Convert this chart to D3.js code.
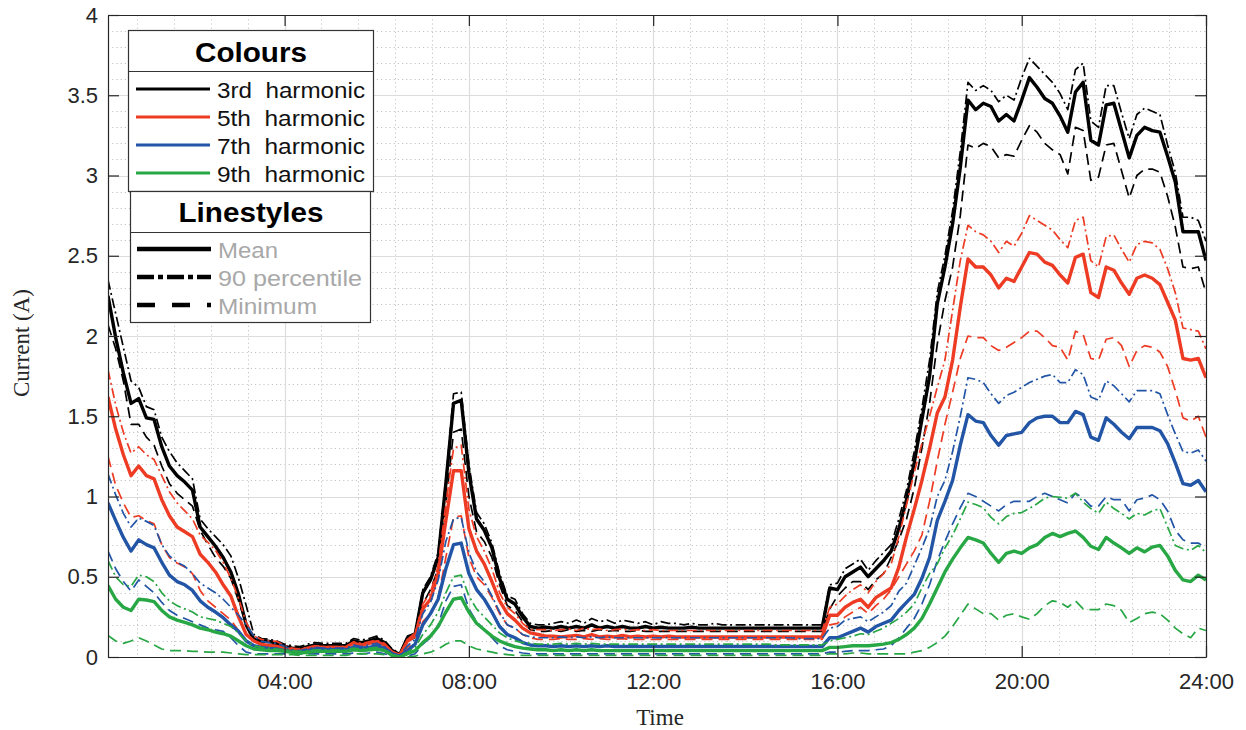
<!DOCTYPE html>
<html>
<head>
<meta charset="utf-8">
<script src="https://cdn.jsdelivr.net/npm/d3@7"></script>
<style>
  body { margin: 0; background: #fff; }
  svg { display: block; }
</style>
</head>
<body>
<svg id="chart" width="1246" height="730"></svg>
<script>
// Sampling grid: one reading every 10 minutes, 00:10 .. 24:00 (minutes after midnight)
const minutes = d3.range(10, 1441, 10);

// 3rd harmonic current (A)
const h3Mean = [
  2.25,1.99,1.77,1.58,1.61,1.49,1.48,1.31,1.19,1.13,1.09,1.04,0.81,0.75,0.69,0.62,0.53,0.39,0.20,0.11,0.10,0.097,0.085,0.066,
  0.055,0.05,0.065,0.075,0.07,0.07,0.07,0.07,0.10,0.09,0.10,0.115,0.09,0.04,0.015,0.12,0.14,
  0.40,0.48,0.62,1.08,1.58,1.60,1.15,0.86,0.79,0.68,0.49,0.36,0.33,0.25,0.19,0.18,
  0.185,0.18,0.19,0.18,0.19,0.18, 0.20,0.18,0.19,0.18,0.19,0.18, 0.18,0.19,0.18,0.185,0.18,0.18,
  0.18,0.185,0.18,0.18,0.18,0.18, 0.18,0.18,0.18,0.18,0.18,0.18, 0.18,0.18,0.18,0.18,0.18,0.18,
  0.18,0.43,0.42,0.50,0.53,0.56,0.50,0.55,0.60,0.66,0.80,0.98,1.21,1.48,1.75,2.20,2.43,2.70,3.05,3.47,
  3.41,3.45,3.43,3.34,3.38,3.34,3.47,3.61,3.55,3.48,3.45,3.37,3.27,3.52,3.58,3.22,3.19,3.44,3.45,3.28,3.11,3.25,3.30,3.28,3.27,3.12,2.96,2.65,2.65,2.65,2.47
];
const h3P90 = [
  2.35,2.14,1.93,1.72,1.68,1.56,1.54,1.37,1.28,1.21,1.16,1.11,0.86,0.80,0.75,0.70,0.63,0.49,0.32,0.14,0.115,0.11,0.10,0.08,
  0.07,0.065,0.08,0.09,0.085,0.085,0.085,0.085,0.115,0.105,0.115,0.13,0.105,0.05,0.02,0.13,0.15,
  0.42,0.50,0.65,1.10,1.64,1.65,1.20,0.90,0.83,0.71,0.52,0.38,0.36,0.27,0.21,0.20,
  0.20,0.21,0.22,0.21,0.23,0.21, 0.24,0.22,0.23,0.21,0.23,0.22, 0.21,0.22,0.20,0.22,0.21,0.21,
  0.20,0.21,0.20,0.20,0.21,0.20, 0.20,0.20,0.20,0.20,0.20,0.20, 0.20,0.20,0.20,0.20,0.20,0.20,
  0.20,0.45,0.46,0.55,0.58,0.61,0.54,0.60,0.65,0.70,0.86,1.04,1.28,1.55,1.85,2.27,2.50,2.78,3.15,3.58,
  3.53,3.56,3.53,3.46,3.50,3.47,3.61,3.73,3.68,3.63,3.58,3.51,3.41,3.66,3.70,3.34,3.30,3.56,3.56,3.39,3.23,3.38,3.42,3.40,3.38,3.19,3.02,2.74,2.74,2.72,2.59
];
const h3Min = [
  2.07,1.92,1.72,1.45,1.45,1.37,1.32,1.19,1.08,1.02,0.98,0.94,0.79,0.70,0.62,0.565,0.49,0.35,0.20,0.10,0.084,0.078,0.072,0.053,
  0.045,0.04,0.055,0.065,0.06,0.06,0.06,0.06,0.085,0.075,0.085,0.10,0.075,0.025,0.01,0.10,0.12,
  0.33,0.42,0.55,0.95,1.40,1.42,1.00,0.78,0.72,0.62,0.45,0.32,0.29,0.22,0.17,0.16,
  0.16,0.165,0.16,0.17,0.16,0.165, 0.16,0.17,0.16,0.165,0.16,0.16, 0.165,0.16,0.16,0.16,0.16,0.16,
  0.16,0.16,0.16,0.16,0.16,0.16, 0.16,0.16,0.16,0.16,0.16,0.16, 0.16,0.16,0.16,0.16,0.16,0.16,
  0.16,0.30,0.38,0.43,0.47,0.47,0.42,0.48,0.52,0.62,0.73,0.86,1.05,1.30,1.58,1.95,2.22,2.43,2.75,3.19,
  3.17,3.20,3.18,3.11,3.13,3.12,3.22,3.31,3.27,3.20,3.16,3.13,3.01,3.30,3.28,2.97,2.99,3.19,3.20,3.03,2.86,3.00,3.04,3.04,3.02,2.87,2.68,2.43,2.42,2.43,2.27
];

// 5th harmonic current (A)
const h5Mean = [
  1.62,1.42,1.26,1.13,1.19,1.13,1.11,0.98,0.88,0.81,0.78,0.75,0.64,0.59,0.53,0.45,0.38,0.25,0.14,0.10,0.078,0.072,0.066,0.053,
  0.045,0.04,0.055,0.065,0.06,0.06,0.06,0.06,0.085,0.075,0.085,0.095,0.075,0.03,0.01,0.10,0.13,
  0.30,0.36,0.52,0.85,1.16,1.16,0.80,0.66,0.58,0.47,0.35,0.27,0.23,0.18,0.15,0.14,
  0.13,0.13,0.125,0.13,0.135,0.125, 0.14,0.125,0.13,0.125,0.135,0.125, 0.13,0.125,0.13,0.125,0.13,0.125,
  0.125,0.125,0.125,0.125,0.125,0.125, 0.125,0.125,0.125,0.125,0.125,0.125, 0.125,0.125,0.125,0.125,0.125,0.125,
  0.125,0.26,0.26,0.31,0.34,0.36,0.31,0.37,0.40,0.43,0.56,0.75,0.92,1.10,1.30,1.52,1.62,1.85,2.18,2.48,
  2.43,2.43,2.38,2.30,2.36,2.34,2.43,2.52,2.51,2.46,2.44,2.38,2.33,2.49,2.51,2.27,2.24,2.43,2.41,2.33,2.26,2.36,2.38,2.36,2.32,2.21,2.10,1.86,1.85,1.86,1.74
];
const h5P90 = [
  1.79,1.57,1.40,1.27,1.31,1.26,1.23,1.13,1.03,0.96,0.91,0.86,0.76,0.715,0.665,0.59,0.49,0.365,0.215,0.13,0.11,0.10,0.097,0.07,
  0.055,0.05,0.06,0.07,0.065,0.065,0.065,0.065,0.095,0.085,0.095,0.105,0.085,0.035,0.012,0.11,0.15,
  0.33,0.40,0.57,0.95,1.30,1.32,0.92,0.75,0.66,0.55,0.40,0.31,0.27,0.21,0.17,0.17,
  0.17,0.165,0.17,0.175,0.165,0.18, 0.17,0.175,0.165,0.17,0.175,0.165, 0.17,0.165,0.17,0.165,0.165,0.165,
  0.165,0.165,0.165,0.165,0.165,0.165, 0.165,0.165,0.165,0.165,0.165,0.165, 0.165,0.165,0.165,0.165,0.165,0.165,
  0.165,0.31,0.33,0.38,0.42,0.45,0.40,0.47,0.52,0.58,0.75,0.95,1.15,1.33,1.50,1.68,1.85,2.16,2.47,2.69,
  2.65,2.63,2.59,2.52,2.59,2.56,2.64,2.75,2.72,2.69,2.66,2.60,2.55,2.72,2.74,2.47,2.43,2.62,2.63,2.54,2.46,2.57,2.59,2.58,2.54,2.42,2.27,2.05,2.04,2.03,1.92
];
const h5Min = [
  1.25,1.07,0.96,0.87,0.88,0.85,0.83,0.70,0.62,0.585,0.56,0.52,0.415,0.35,0.31,0.27,0.23,0.165,0.10,0.066,0.053,0.048,0.048,0.04,
  0.04,0.035,0.045,0.05,0.045,0.045,0.045,0.045,0.065,0.055,0.065,0.075,0.055,0.02,0.005,0.06,0.09,
  0.22,0.27,0.37,0.62,0.87,0.88,0.62,0.50,0.45,0.37,0.27,0.20,0.18,0.14,0.12,0.11,
  0.11,0.11,0.115,0.11,0.11,0.115, 0.11,0.115,0.11,0.11,0.115,0.11, 0.11,0.11,0.11,0.11,0.11,0.11,
  0.11,0.11,0.11,0.11,0.11,0.11, 0.11,0.11,0.11,0.11,0.11,0.11, 0.11,0.11,0.11,0.11,0.11,0.11,
  0.11,0.20,0.21,0.25,0.28,0.31,0.27,0.32,0.36,0.42,0.50,0.58,0.66,0.76,0.97,1.22,1.45,1.65,1.86,2.00,
  1.99,1.99,1.94,1.91,1.93,1.96,1.99,2.03,2.03,1.99,1.94,1.93,1.85,2.03,2.01,1.86,1.85,1.98,1.99,1.94,1.81,1.91,1.94,1.93,1.90,1.81,1.66,1.49,1.47,1.50,1.37
];

// 7th harmonic current (A)
const h7Mean = [
  0.96,0.85,0.745,0.66,0.73,0.70,0.68,0.59,0.51,0.47,0.45,0.415,0.35,0.31,0.28,0.245,0.20,0.16,0.10,0.07,0.06,0.053,0.05,0.04,
  0.035,0.03,0.04,0.05,0.045,0.045,0.045,0.045,0.06,0.055,0.06,0.07,0.055,0.02,0.005,0.04,0.08,
  0.20,0.27,0.36,0.55,0.70,0.71,0.52,0.42,0.36,0.28,0.19,0.14,0.12,0.09,0.075,0.07,
  0.07,0.065,0.07,0.065,0.07,0.065, 0.07,0.065,0.07,0.065,0.065,0.065, 0.065,0.065,0.065,0.065,0.065,0.065,
  0.065,0.065,0.065,0.065,0.065,0.065, 0.065,0.065,0.065,0.065,0.065,0.065, 0.065,0.065,0.065,0.065,0.065,0.065,
  0.065,0.12,0.12,0.14,0.16,0.18,0.155,0.19,0.21,0.23,0.29,0.34,0.39,0.49,0.62,0.85,0.97,1.10,1.32,1.51,
  1.47,1.46,1.38,1.32,1.38,1.39,1.40,1.46,1.49,1.50,1.50,1.46,1.46,1.53,1.51,1.37,1.35,1.49,1.45,1.40,1.36,1.43,1.43,1.43,1.41,1.33,1.21,1.08,1.07,1.10,1.03
];
const h7P90 = [
  1.14,1.01,0.895,0.81,0.865,0.845,0.82,0.70,0.63,0.59,0.565,0.52,0.46,0.43,0.40,0.36,0.31,0.26,0.20,0.13,0.097,0.09,0.085,0.066,
  0.045,0.04,0.05,0.06,0.055,0.055,0.055,0.055,0.075,0.065,0.075,0.085,0.065,0.025,0.008,0.07,0.11,
  0.27,0.34,0.48,0.72,0.86,0.87,0.65,0.53,0.47,0.38,0.28,0.20,0.18,0.14,0.125,0.12,
  0.12,0.12,0.125,0.12,0.125,0.12, 0.125,0.12,0.125,0.12,0.12,0.12, 0.12,0.12,0.12,0.12,0.12,0.12,
  0.12,0.12,0.12,0.12,0.12,0.12, 0.12,0.12,0.12,0.12,0.12,0.12, 0.12,0.12,0.12,0.115,0.115,0.115,
  0.115,0.18,0.19,0.23,0.24,0.25,0.22,0.25,0.28,0.32,0.41,0.46,0.57,0.68,0.80,1.00,1.10,1.28,1.50,1.74,
  1.73,1.71,1.64,1.58,1.63,1.65,1.68,1.71,1.73,1.75,1.76,1.71,1.71,1.79,1.76,1.62,1.60,1.72,1.69,1.64,1.59,1.66,1.66,1.66,1.64,1.51,1.39,1.28,1.27,1.29,1.22
];
const h7Min = [
  0.66,0.55,0.47,0.41,0.48,0.44,0.40,0.34,0.29,0.26,0.24,0.22,0.20,0.18,0.17,0.16,0.12,0.07,0.03,0.02,0.02,0.02,0.02,0.02,
  0.02,0.02,0.02,0.02,0.02,0.02,0.02,0.02,0.025,0.02,0.025,0.03,0.02,0.005,0.0,0.005,0.02,
  0.08,0.12,0.20,0.35,0.44,0.45,0.30,0.22,0.17,0.12,0.07,0.045,0.035,0.025,0.02,0.02,
  0.02,0.02,0.02,0.02,0.02,0.02, 0.02,0.02,0.02,0.02,0.02,0.02, 0.02,0.02,0.02,0.02,0.02,0.02,
  0.02,0.02,0.02,0.02,0.02,0.02, 0.02,0.02,0.02,0.02,0.02,0.02, 0.02,0.02,0.02,0.02,0.02,0.02,
  0.02,0.03,0.03,0.035,0.04,0.04,0.04,0.045,0.05,0.07,0.12,0.18,0.24,0.33,0.45,0.60,0.72,0.83,0.93,1.02,
  1.00,0.97,0.94,0.91,0.95,0.97,0.97,0.97,1.00,1.02,1.00,0.98,0.96,1.02,0.99,0.94,0.94,1.00,0.98,0.98,0.91,0.98,0.99,1.01,0.98,0.91,0.79,0.73,0.71,0.71,0.68
];

// 9th harmonic current (A)
const h9Mean = [
  0.445,0.36,0.31,0.29,0.36,0.355,0.345,0.29,0.25,0.23,0.215,0.20,0.18,0.17,0.155,0.145,0.13,0.10,0.07,0.05,0.045,0.04,0.04,0.035,
  0.03,0.025,0.03,0.035,0.035,0.035,0.035,0.035,0.045,0.04,0.045,0.05,0.04,0.01,0.0,0.02,0.04,
  0.09,0.13,0.19,0.28,0.36,0.37,0.28,0.21,0.17,0.13,0.10,0.08,0.065,0.055,0.05,0.045,
  0.045,0.04,0.045,0.04,0.045,0.04, 0.045,0.04,0.04,0.04,0.04,0.04, 0.04,0.04,0.04,0.04,0.04,0.04,
  0.04,0.04,0.04,0.04,0.04,0.04, 0.04,0.04,0.04,0.04,0.04,0.04, 0.04,0.04,0.04,0.04,0.04,0.04,
  0.04,0.06,0.06,0.065,0.07,0.07,0.07,0.075,0.08,0.09,0.11,0.14,0.18,0.24,0.33,0.43,0.53,0.61,0.68,0.745,
  0.73,0.71,0.645,0.59,0.645,0.66,0.645,0.68,0.70,0.745,0.77,0.75,0.77,0.785,0.745,0.69,0.67,0.745,0.71,0.68,0.645,0.68,0.655,0.685,0.695,0.63,0.54,0.48,0.47,0.51,0.48
];
const h9P90 = [
  0.60,0.50,0.45,0.44,0.51,0.50,0.47,0.40,0.35,0.32,0.30,0.28,0.25,0.24,0.23,0.21,0.19,0.15,0.10,0.07,0.06,0.055,0.05,0.045,
  0.04,0.035,0.04,0.045,0.045,0.045,0.045,0.045,0.055,0.05,0.055,0.06,0.05,0.015,0.005,0.03,0.06,
  0.14,0.20,0.28,0.40,0.50,0.51,0.38,0.30,0.25,0.20,0.15,0.12,0.10,0.09,0.085,0.08,
  0.08,0.08,0.085,0.08,0.085,0.08, 0.085,0.08,0.08,0.08,0.08,0.08, 0.08,0.08,0.08,0.08,0.08,0.08,
  0.08,0.08,0.08,0.08,0.08,0.08, 0.08,0.08,0.08,0.08,0.08,0.08, 0.075,0.075,0.075,0.075,0.075,0.075,
  0.075,0.10,0.11,0.12,0.13,0.145,0.14,0.16,0.18,0.21,0.24,0.28,0.33,0.43,0.52,0.58,0.68,0.76,0.86,0.965,
  0.95,0.93,0.87,0.83,0.875,0.895,0.90,0.925,0.955,0.99,1.00,0.995,0.99,1.02,0.965,0.925,0.895,0.965,0.925,0.895,0.86,0.895,0.885,0.91,0.925,0.81,0.695,0.675,0.665,0.695,0.65
];
const h9Min = [
  0.135,0.10,0.085,0.10,0.12,0.10,0.075,0.05,0.04,0.04,0.04,0.035,0.035,0.03,0.03,0.03,0.025,0.02,0.015,0.015,0.015,0.015,0.015,0.015,
  0.015,0.01,0.01,0.01,0.01,0.01,0.01,0.01,0.02,0.02,0.02,0.02,0.015,0.005,0.0,0.0,0.005,
  0.02,0.03,0.05,0.08,0.10,0.10,0.07,0.05,0.04,0.03,0.02,0.015,0.01,0.01,0.01,0.01,
  0.01,0.01,0.01,0.01,0.01,0.01, 0.01,0.01,0.01,0.01,0.01,0.01, 0.01,0.01,0.01,0.01,0.01,0.01,
  0.01,0.01,0.01,0.01,0.01,0.01, 0.01,0.01,0.01,0.01,0.01,0.01, 0.01,0.01,0.01,0.01,0.01,0.01,
  0.01,0.02,0.02,0.02,0.025,0.025,0.02,0.02,0.02,0.02,0.02,0.02,0.03,0.04,0.06,0.09,0.13,0.19,0.26,0.33,
  0.30,0.27,0.27,0.23,0.26,0.27,0.25,0.235,0.27,0.32,0.35,0.34,0.31,0.35,0.30,0.295,0.295,0.33,0.32,0.29,0.215,0.24,0.27,0.28,0.27,0.23,0.18,0.145,0.12,0.18,0.165
];

// Categories, styling keys and tick labels
const harmonics = ["3rd  harmonic", "5th  harmonic", "7th  harmonic", "9th  harmonic"];
const harmonicColours = ["#000000", "#ee3b24", "#2255a6", "#28a745"];
const statistics = ["Mean", "90 percentile", "Minimum"];
const seriesByHarmonic = [
  [h3Mean, h3P90, h3Min],
  [h5Mean, h5P90, h5Min],
  [h7Mean, h7P90, h7Min],
  [h9Mean, h9P90, h9Min]
];
const yTickValues = [0, 0.5, 1, 1.5, 2, 2.5, 3, 3.5, 4];
const yTickLabels = ["0", "0.5", "1", "1.5", "2", "2.5", "3", "3.5", "4"];
const xTickMinutes = [240, 480, 720, 960, 1200, 1440];
const xTickLabels = ["04:00", "08:00", "12:00", "16:00", "20:00", "24:00"];

// ---------------------------------------------------------------
const svg = d3.select("#chart");
const plot = { left: 108, right: 1206, top: 15, bottom: 657 };
const axisColour = "#262626";

const x = d3.scaleLinear().domain([10, 1440]).range([plot.left, plot.right]);
const y = d3.scaleLinear().domain([0, 4]).range([plot.bottom, plot.top]);

// Grid: minor dotted, major solid
const grid = svg.append("g");
const minorX = d3.range(48, 1440, 48).filter(m => m % 240 !== 0 && m > 10);
const minorY = d3.range(1, 40).filter(i => i % 5 !== 0).map(i => i / 10);
grid.selectAll(".mx").data(minorX).join("line")
  .attr("x1", d => Math.round(x(d)) + 0.5).attr("x2", d => Math.round(x(d)) + 0.5)
  .attr("y1", plot.top).attr("y2", plot.bottom)
  .attr("stroke", "#c4c4c4").attr("stroke-dasharray", "1.2,3");
grid.selectAll(".my").data(minorY).join("line")
  .attr("y1", d => Math.round(y(d)) + 0.5).attr("y2", d => Math.round(y(d)) + 0.5)
  .attr("x1", plot.left).attr("x2", plot.right)
  .attr("stroke", "#c4c4c4").attr("stroke-dasharray", "1.2,3");
grid.selectAll(".Mx").data(xTickMinutes.slice(0, -1)).join("line")
  .attr("x1", d => Math.round(x(d)) + 0.5).attr("x2", d => Math.round(x(d)) + 0.5)
  .attr("y1", plot.top).attr("y2", plot.bottom)
  .attr("stroke", "#dcdcdc").attr("stroke-width", 1.2);
grid.selectAll(".My").data(yTickValues.slice(1, -1)).join("line")
  .attr("y1", d => Math.round(y(d)) + 0.5).attr("y2", d => Math.round(y(d)) + 0.5)
  .attr("x1", plot.left).attr("x2", plot.right)
  .attr("stroke", "#dcdcdc").attr("stroke-width", 1.2);

// Data lines
svg.append("clipPath").attr("id", "plot-clip").append("rect")
  .attr("x", plot.left).attr("y", plot.top - 2)
  .attr("width", plot.right - plot.left).attr("height", plot.bottom - plot.top + 2);

const lineGen = d3.line()
  .x(d => x(d.m))
  .y(d => y(d.v));

const statStyle = [
  { width: 3.4, dash: null },            // mean
  { width: 1.7, dash: "10,3.5,2,3.5" },  // 90 percentile
  { width: 1.7, dash: "11,6" }           // minimum
];
const drawOrder = [1, 2, 0];

const lines = svg.append("g").attr("clip-path", "url(#plot-clip)");
seriesByHarmonic.forEach((stats, hi) => {
  drawOrder.forEach(si => {
    const pts = minutes.map((m, i) => ({ m, v: stats[si][i] }));
    lines.append("path")
      .attr("d", lineGen(pts))
      .attr("fill", "none")
      .attr("stroke", harmonicColours[hi])
      .attr("stroke-width", statStyle[si].width)
      .attr("stroke-dasharray", statStyle[si].dash)
      .attr("stroke-linejoin", "round");
  });
});

// Axes (ticks point inward, box on all four sides)
const tickFont = "'Liberation Sans', Arial, Helvetica, sans-serif";
function styleAxis(g) {
  g.selectAll("path.domain").attr("stroke", axisColour).attr("stroke-width", 1.2);
  g.selectAll(".tick line").attr("stroke", axisColour).attr("stroke-width", 1.2);
  g.selectAll(".tick text")
    .attr("fill", axisColour)
    .style("font-family", tickFont)
    .style("font-size", "22px");
}
svg.append("g").attr("transform", `translate(0,${plot.bottom})`)
  .call(d3.axisBottom(x).tickValues(xTickMinutes).tickFormat((d, i) => xTickLabels[i])
    .tickSizeInner(-11).tickSizeOuter(0).tickPadding(16))
  .call(styleAxis);
svg.append("g").attr("transform", `translate(0,${plot.top})`)
  .call(d3.axisTop(x).tickValues(xTickMinutes).tickFormat("")
    .tickSizeInner(-11).tickSizeOuter(0))
  .call(styleAxis);
svg.append("g").attr("transform", `translate(${plot.left},0)`)
  .call(d3.axisLeft(y).tickValues(yTickValues).tickFormat((d, i) => yTickLabels[i])
    .tickSizeInner(-11).tickSizeOuter(0).tickPadding(10))
  .call(styleAxis);
svg.append("g").attr("transform", `translate(${plot.right},0)`)
  .call(d3.axisRight(y).tickValues(yTickValues).tickFormat("")
    .tickSizeInner(-11).tickSizeOuter(0))
  .call(styleAxis);

// Axis titles
const serif = "'Liberation Serif', 'Times New Roman', serif";
svg.append("text")
  .attr("x", (plot.left + plot.right) / 2 + 3).attr("y", 725)
  .attr("text-anchor", "middle")
  .style("font-family", serif).style("font-size", "23px").attr("fill", axisColour)
  .text("Time");
svg.append("text")
  .attr("transform", `translate(29,${(plot.top + plot.bottom) / 2 + 7}) rotate(-90)`)
  .attr("text-anchor", "middle")
  .style("font-family", serif).style("font-size", "23px").attr("fill", axisColour)
  .text("Current (A)");

// Legend: colours box
const legendFont = "'Liberation Sans', Arial, Helvetica, sans-serif";
const lg = svg.append("g");
const cBox = { x: 128.5, y: 30.5, w: 245, h: 161 };
lg.append("rect").attr("x", cBox.x).attr("y", cBox.y).attr("width", cBox.w).attr("height", cBox.h)
  .attr("fill", "#fff").attr("stroke", "#333").attr("stroke-width", 1.2);
lg.append("line").attr("x1", cBox.x).attr("x2", cBox.x + cBox.w).attr("y1", 71.5).attr("y2", 71.5)
  .attr("stroke", "#333").attr("stroke-width", 1.2);
lg.append("text").attr("x", 251).attr("y", 62).attr("text-anchor", "middle")
  .style("font-family", legendFont).style("font-size", "27px").style("font-weight", "bold")
  .attr("textLength", 112).attr("lengthAdjust", "spacingAndGlyphs")
  .text("Colours");
const colourRows = [89, 117, 145, 173];
harmonics.forEach((h, i) => {
  lg.append("line").attr("x1", 136).attr("x2", 210).attr("y1", colourRows[i]).attr("y2", colourRows[i])
    .attr("stroke", harmonicColours[i]).attr("stroke-width", 3.2);
  lg.append("text").attr("x", 217).attr("y", colourRows[i] + 8.5)
    .style("font-family", legendFont).style("font-size", "22px").attr("fill", "#111")
    .style("white-space", "pre")
    .attr("textLength", 148).attr("lengthAdjust", "spacingAndGlyphs")
    .text(h);
});

// Legend: linestyles box
const sBox = { x: 130.5, y: 191.5, w: 240, h: 131 };
lg.append("rect").attr("x", sBox.x).attr("y", sBox.y).attr("width", sBox.w).attr("height", sBox.h)
  .attr("fill", "#fff").attr("stroke", "#333").attr("stroke-width", 1.2);
lg.append("line").attr("x1", sBox.x).attr("x2", sBox.x + sBox.w).attr("y1", 232.5).attr("y2", 232.5)
  .attr("stroke", "#333").attr("stroke-width", 1.2);
lg.append("text").attr("x", 251).attr("y", 222).attr("text-anchor", "middle")
  .style("font-family", legendFont).style("font-size", "27px").style("font-weight", "bold")
  .attr("textLength", 145).attr("lengthAdjust", "spacingAndGlyphs")
  .text("Linestyles");
const styleRows = [249, 277, 305];
const legendDash = [null, "17,4,5,4", "18,17"];
const statTextLen = [60, 144, 99];
statistics.forEach((s, i) => {
  lg.append("line").attr("x1", 137).attr("x2", 211).attr("y1", styleRows[i]).attr("y2", styleRows[i])
    .attr("stroke", "#000").attr("stroke-width", 4.5)
    .attr("stroke-dasharray", legendDash[i]);
  lg.append("text").attr("x", 218).attr("y", styleRows[i] + 9)
    .style("font-family", legendFont).style("font-size", "22px").attr("fill", "#a8a8a8")
    .attr("textLength", statTextLen[i]).attr("lengthAdjust", "spacingAndGlyphs")
    .text(s);
});
</script>
</body>
</html>
